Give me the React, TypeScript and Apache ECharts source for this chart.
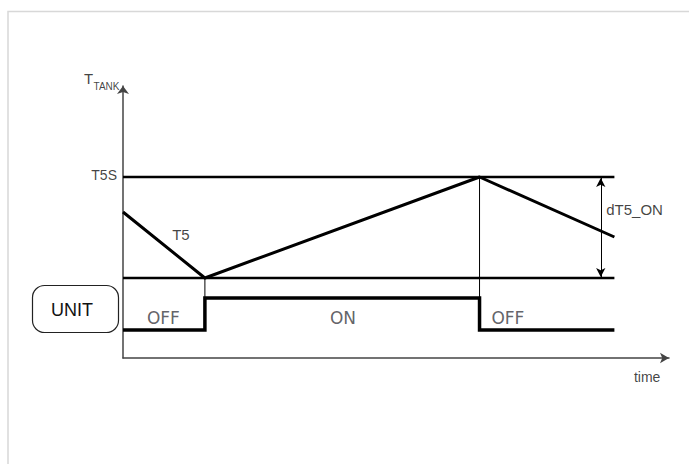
import { useEffect, useRef } from "react";
import * as echarts from "echarts";

// Time axis (arbitrary units) and tank temperature axis (arbitrary units)
const timeMax = 100;
const tempMax = 136;

// Unit state segments: edges on the time axis and the state in each segment
const switchTimes = [0, 15, 65.3, 90];
const unitStates = ["OFF", "ON", "OFF"];
const stateLevelOff = 14;
const stateLevelOn = 30;
const stateLabelTimes = [7.4, 40.3, 70.5];
const stateLabelLevel = 20;

// Tank temperature T5 curve
const t5Times = [0, 15, 65.3, 90];
const t5Values = [73, 40, 90.5, 60.5];

// Thresholds
const T5S = 90.5;
const dT5_ON = 50.5;
const lowerThreshold = T5S - dT5_ON;
const thresholdEnd = 90;
const dT5ArrowTime = 87.5;

// Annotation anchors: [time, temp]
const t5LabelPos = [10.6, 62];
const dT5LabelPos = [88.5, 74.5];
const timeLabelPos = [96, -9.5];

export default function App() {
  const ref = useRef<HTMLDivElement>(null);

  useEffect(() => {
    document.body.style.margin = "0";
    const chart = echarts.init(ref.current!, null, { renderer: "svg" });

    const stepData: number[][] = [];
    unitStates.forEach((s, i) => {
      const lvl = s === "ON" ? stateLevelOn : stateLevelOff;
      stepData.push([switchTimes[i], lvl]);
      stepData.push([switchTimes[i + 1], lvl]);
    });

    const t5Data = t5Times.map((t, i) => [t, t5Values[i]]);

    const font = "'Liberation Sans', Arial, sans-serif";
    const lbl = (x: number, y: number, text: string, extra: any = {}) => ({
      value: [x, y],
      label: {
        show: true,
        position: "inside",
        formatter: text,
        color: "#111",
        fontSize: 14,
        fontFamily: font,
        ...extra,
      },
    });

    const labels = [
      lbl(-1.1, T5S + 1, "T5S", { align: "right" }),
      lbl(t5LabelPos[0], t5LabelPos[1], "T5", { fontSize: 15 }),
      lbl(dT5LabelPos[0], dT5LabelPos[1], "dT5_ON", { align: "left", fontSize: 15 }),
      lbl(timeLabelPos[0], timeLabelPos[1], "time", { fontSize: 14 }),
      lbl(-6.3, 140, "T", { fontSize: 15 }),
      lbl(-5.4, 135.8, "TANK", { fontSize: 10, align: "left" }),
      ...unitStates.map((s, i) =>
        lbl(stateLabelTimes[i], stateLabelLevel, s, {
          fontSize: 17,
          color: "#3a3a42",
          fontFamily: "'DejaVu Sans', Verdana, sans-serif",
        })
      ),
    ];

    const black = "#000";

    chart.setOption({
      animation: false,
      backgroundColor: "#fff",
      grid: { left: 123, right: 20, top: 86, bottom: 106, containLabel: false },
      xAxis: {
        type: "value",
        min: 0,
        max: timeMax,
        axisLine: {
          show: true,
          symbol: ["none", "arrow"],
          symbolSize: [8, 9],
          lineStyle: { color: "#444", width: 1.5 },
        },
        axisTick: { show: false },
        axisLabel: { show: false },
        splitLine: { show: false },
      },
      yAxis: {
        type: "value",
        min: 0,
        max: tempMax,
        axisLine: {
          show: true,
          symbol: ["none", "arrow"],
          symbolSize: [9, 8],
          lineStyle: { color: "#444", width: 1.5 },
        },
        axisTick: { show: false },
        axisLabel: { show: false },
        splitLine: { show: false },
      },
      graphic: [
        {
          type: "rect",
          z: -10,
          shape: { x: 8, y: 11.5, width: 800, height: 600 },
          style: { fill: "none", stroke: "#d8d8d8", lineWidth: 1.5 },
        },
        {
          type: "rect",
          shape: { x: 32.5, y: 285.5, width: 86, height: 47, r: 12 },
          style: { fill: "#fff", stroke: "#222", lineWidth: 1.2 },
        },
        {
          type: "text",
          x: 72,
          y: 310,
          style: {
            text: "UNIT",
            fill: "#111",
            fontSize: 18,
            fontFamily: font,
            align: "center",
            verticalAlign: "middle",
          },
        },
      ],
      series: [
        {
          type: "line",
          data: [[0, T5S], [thresholdEnd, T5S]],
          symbol: "none",
          lineStyle: { color: black, width: 2.5 },
          silent: true,
        },
        {
          type: "line",
          data: [[0, lowerThreshold], [thresholdEnd, lowerThreshold]],
          symbol: "none",
          lineStyle: { color: black, width: 2.5 },
          silent: true,
        },
        {
          type: "line",
          data: [[switchTimes[1], lowerThreshold], [switchTimes[1], stateLevelOn]],
          symbol: "none",
          lineStyle: { color: black, width: 1 },
          silent: true,
        },
        {
          type: "line",
          data: [[switchTimes[2], T5S], [switchTimes[2], stateLevelOn]],
          symbol: "none",
          lineStyle: { color: black, width: 1 },
          silent: true,
        },
        {
          type: "line",
          data: t5Data,
          symbol: "none",
          lineStyle: { color: black, width: 3, join: "round" },
          silent: true,
        },
        {
          type: "line",
          data: stepData,
          symbol: "none",
          lineStyle: { color: black, width: 3.5, join: "miter", cap: "butt" },
          silent: true,
        },
        {
          type: "line",
          data: [],
          symbol: "none",
          silent: true,
          markLine: {
            silent: true,
            symbol: ["arrow", "arrow"],
            symbolSize: [7, 9],
            label: { show: false },
            lineStyle: { color: black, width: 1, type: "solid" },
            data: [
              [
                { coord: [dT5ArrowTime, lowerThreshold + 0.5] },
                { coord: [dT5ArrowTime, T5S - 0.5] },
              ],
            ],
          },
        },
        {
          type: "scatter",
          symbolSize: 0,
          clip: false,
          silent: true,
          data: labels,
        },
      ],
    });

    return () => chart.dispose();
  }, []);

  return <div ref={ref} style={{ width: 689, height: 464 }} />;
}
